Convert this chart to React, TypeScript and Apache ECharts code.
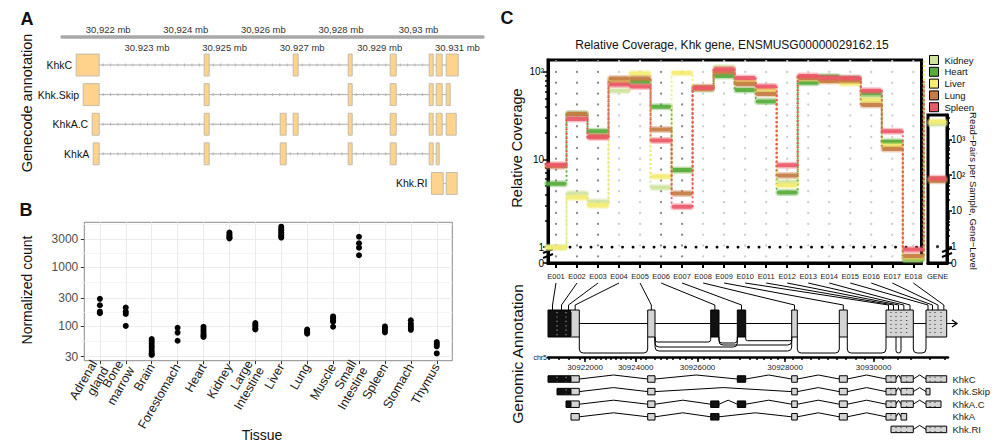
import React, { useEffect, useRef } from "react";
import * as echarts from "echarts";

const FONT = '"Liberation Sans", Arial, Helvetica, sans-serif';
const fnt = (size: number, weight = "normal") => `${weight} ${size}px ${FONT}`;

// ================= Panel A : Genecode annotation (kb) =================
const A_TRANSCRIPTS = ["KhkC", "Khk.Skip", "KhkA.C", "KhkA", "Khk.RI"];
const A_KHKC = [[30921.175, 30921.768], [30924.474, 30924.603], [30926.768, 30926.897], [30928.186, 30928.289], [30929.268, 30929.423], [30930.273, 30930.376], [30930.454, 30930.608], [30930.711, 30931.021]];
const A_KHK_SKIP = [[30921.356, 30921.768], [30924.474, 30924.603], [30928.186, 30928.289], [30929.268, 30929.423], [30930.273, 30930.376], [30930.454, 30930.608], [30930.711, 30930.814]];
const A_KHKA_C = [[30921.588, 30921.768], [30924.474, 30924.603], [30926.433, 30926.588], [30926.768, 30926.897], [30928.186, 30928.289], [30929.268, 30929.423], [30930.273, 30930.376], [30930.454, 30930.608], [30930.711, 30930.969]];
const A_KHKA = [[30921.613, 30921.768], [30924.474, 30924.603], [30926.433, 30926.588], [30928.186, 30928.289], [30929.268, 30929.423], [30930.273, 30930.376], [30930.454, 30930.531]];
const A_KHK_RI = [[30930.33, 30930.634], [30930.711, 30930.995]];
const A_EXONS = [A_KHKC, A_KHK_SKIP, A_KHKA_C, A_KHKA, A_KHK_RI];
const A_TICKS_ABOVE = [30922, 30924, 30926, 30928, 30930];
const A_LABELS_ABOVE = ["30,922 mb", "30,924 mb", "30,926 mb", "30,928 mb", "30,93 mb"];
const A_TICKS_BELOW = [30923, 30925, 30927, 30929, 30931];
const A_LABELS_BELOW = ["30.923 mb", "30.925 mb", "30.927 mb", "30.929 mb", "30.931 mb"];

// ================= Panel B : normalized counts =================
const B_TISSUES = ["Adrenal\ngland", "Bone\nmarrow", "Brain", "Forestomach", "Heart", "Kidney", "Large\nIntestine", "Liver", "Lung", "Muscle", "Small\nIntestine", "Spleen", "Stomach", "Thymus"];
const B_ADRENAL = [290, 225, 175, 165];
const B_BONE_MARROW = [205, 175, 160, 100];
const B_BRAIN = [60, 55, 50, 45, 42, 38, 35, 33, 32];
const B_FORESTOMACH = [93, 77, 56];
const B_HEART = [97, 88, 80, 73, 68, 65];
const B_KIDNEY = [3900, 3600, 3400, 3200, 3100];
const B_LARGE_INTESTINE = [112, 105, 98, 90, 87];
const B_LIVER = [4900, 4500, 4200, 3900, 3600, 3400, 3200];
const B_LUNG = [87, 82, 78, 74];
const B_MUSCLE = [145, 135, 125, 118, 97];
const B_SMALL_INTESTINE = [3300, 2550, 2150, 1600];
const B_SPLEEN = [98, 92, 85, 78];
const B_STOMACH = [125, 110, 100, 92, 86];
const B_THYMUS = [53, 49, 45, 34];
const B_VALUES = [B_ADRENAL, B_BONE_MARROW, B_BRAIN, B_FORESTOMACH, B_HEART, B_KIDNEY, B_LARGE_INTESTINE, B_LIVER, B_LUNG, B_MUSCLE, B_SMALL_INTESTINE, B_SPLEEN, B_STOMACH, B_THYMUS];
const B_Y_TICKS = [30, 100, 300, 1000, 3000];
const B_Y_MINOR = [54.8, 173, 548, 1732, 5477];

// ================= Panel C : relative coverage =================
const C_EXONS = ["E001", "E002", "E003", "E004", "E005", "E006", "E007", "E008", "E009", "E010", "E011", "E012", "E013", "E014", "E015", "E016", "E017", "E018"];
const C_TISSUES = ["Kidney", "Heart", "Liver", "Lung", "Spleen"];
const C_COLORS = ["#cfe39e", "#55ad3a", "#f3ec70", "#c57c44", "#ec5868"];
const C_KIDNEY = [1.0, 4.1, 3.3, 61, 80, 4.8, 7.5, 66, 112, 76, 60, 5.5, 86, 85, 82, 51, 15.5, 0.2];
const C_HEART = [5.3, 33, 21, 77, 77, 40, 7.6, 64, 90, 62, 46, 4.2, 75, 88, 84, 57, 16, 0.25];
const C_LIVER = [0.98, 3.7, 3.0, 80, 96, 6.4, 97, 65, 104, 78, 62, 5.1, 84, 80, 74, 47, 14.4, 0.35];
const C_LUNG = [8.4, 33, 18.5, 84, 84, 22, 4.1, 67, 100, 73, 56, 6.6, 85, 79, 80, 42, 13.2, 0.45];
const C_SPLEEN = [8.7, 29, 18, 72, 68, 16.5, 2.9, 65, 107, 85, 68, 8.6, 90, 86, 85, 61, 21, 0.85];
const C_VALUES = [C_KIDNEY, C_HEART, C_LIVER, C_LUNG, C_SPLEEN];
const C_GENE = [2700, 75, 3150, 70, 82];
const C_SIG = [0, 1, 2, 5, 6];
const MAIN_Y_TICK_VALUES = [0, 1, 10, 100];
const MAIN_Y_TICK_LABELS = ["0", "1", "10", "10²"];
const MAIN_Y_MINOR = [2, 3, 4, 5, 6, 7, 8, 9, 20, 30, 40, 50, 60, 70, 80, 90];
const GENE_Y_TICK_VALUES = [0, 1, 10, 100, 1000];
const GENE_Y_TICK_LABELS = ["0", "1", "10", "10²", "10³"];
const GENE_Y_MINOR = [2, 3, 4, 5, 6, 7, 8, 9, 20, 30, 40, 50, 60, 70, 80, 90, 200, 300, 400, 500, 600, 700, 800, 900, 2000, 3000, 4000];

// gene model (exon-weighted layout, model units) and genomic coordinates (kb)
const GM_BIN_START = [0, 9, 18, 23, 99.7, 162.7, 189.3, 243.7, 291.3, 338, 343, 348, 353, 358.7, 378, 382, 387, 393];
const GM_BIN_END = [9, 18, 23, 31.3, 107, 171, 197.7, 249.3, 299.3, 343, 348, 353, 358.7, 365.3, 382, 387, 393, 398.7];
const GM_BIN_GSTART = [30921.175, 30921.356, 30921.588, 30921.613, 30924.474, 30926.433, 30926.768, 30928.186, 30929.268, 30930.273, 30930.33, 30930.376, 30930.454, 30930.531, 30930.711, 30930.814, 30930.9, 30930.969];
const GM_BIN_GEND = [30921.356, 30921.588, 30921.613, 30921.768, 30924.603, 30926.588, 30926.897, 30928.289, 30929.423, 30930.33, 30930.376, 30930.454, 30930.531, 30930.634, 30930.814, 30930.9, 30930.969, 30931.021];
const GM_JUNCTION_FROM = [3, 4, 4, 4, 5, 5, 6, 7, 8, 10, 13];
const GM_JUNCTION_TO = [4, 5, 6, 7, 6, 7, 7, 8, 9, 12, 14];
const GM_JUNCTION_DEPTH = [16, 5, 10, 14, 6, 8, 3.7, 16, 16, 16, 16];
const GM_TRANSCRIPTS = ["KhkC", "Khk.Skip", "KhkA.C", "KhkA", "Khk.RI"];
const GM_TX_KHKC = [0, 1, 2, 3, 4, 6, 7, 8, 9, 10, 12, 13, 14, 15, 16, 17];
const GM_TX_KHK_SKIP = [1, 2, 3, 4, 7, 8, 9, 10, 12, 13, 14];
const GM_TX_KHKA_C = [2, 3, 4, 5, 6, 7, 8, 9, 10, 12, 13, 14, 15, 16];
const GM_TX_KHKA = [3, 4, 5, 7, 8, 9, 10, 12];
const GM_TX_KHK_RI = [10, 11, 12, 13, 14, 15, 16, 17];
const GM_TX = [GM_TX_KHKC, GM_TX_KHK_SKIP, GM_TX_KHKA_C, GM_TX_KHKA, GM_TX_KHK_RI];
const CHR_LABEL_POS = [30922, 30924, 30926, 30928, 30930];
const CHR_LABELS = ["30922000", "30924000", "30926000", "30928000", "30930000"];

// ================= layout constants =================
const A_X_MIN = 30920.81, A_X_MAX = 30931.66;
const B_X_MIN = -0.6, B_X_MAX = 13.6;
const MAIN_LEFT = 548, MAIN_W = 373.5;
const MAIN_X_MIN = -0.38, MAIN_X_MAX = 17.39;
const MAIN_ZERO_T = -0.18, MAIN_T_MAX = 2.136;
const GENE_ZERO_T = -0.455, GENE_T_MAX = 3.68;
const GM_CONN_TOP = 0, GM_KINK = 22, GM_BOX_TOP = 27, GM_BOX_BOT = 54, GM_CENTER = 40.5;

const tMain = (v: number) => (v >= 1 ? Math.log10(v) : MAIN_ZERO_T * (1 - v));
const tGene = (v: number) => (v >= 1 ? Math.log10(v) : GENE_ZERO_T * (1 - v));
const idx = (n: number) => Array.from({ length: n }, (_, i) => i);
function nearestIdx(arr: number[], v: number) {
  let b = 0;
  for (let i = 1; i < arr.length; i++) if (Math.abs(arr[i] - v) < Math.abs(arr[b] - v)) b = i;
  return b;
}
const GM_ANCHORS = (() => {
  const pts: number[][] = [];
  for (let i = 0; i < GM_BIN_GSTART.length; i++) {
    pts.push([GM_BIN_GSTART[i], GM_BIN_START[i]]);
    pts.push([GM_BIN_GEND[i], GM_BIN_END[i]]);
  }
  pts.sort((a, b) => a[0] - b[0]);
  return pts;
})();
function gToModel(g: number) {
  const a = GM_ANCHORS;
  if (g <= a[0][0]) return a[0][1];
  for (let j = 0; j < a.length - 1; j++) {
    const g0 = a[j][0], m0 = a[j][1], g1 = a[j + 1][0], m1 = a[j + 1][1];
    if (g >= g0 && g <= g1) return g1 - g0 < 1e-9 ? m0 : m0 + ((g - g0) / (g1 - g0)) * (m1 - m0);
  }
  return a[a.length - 1][1];
}
const CHR_MINOR = idx(50).map((k) => gToModel(30921.2 + 0.2 * k));
const CHR_LABEL_M = CHR_LABEL_POS.map(gToModel);
const colPx = (i: number) => MAIN_LEFT + ((i - MAIN_X_MIN) / (MAIN_X_MAX - MAIN_X_MIN)) * MAIN_W;
const isSig = (i: number) => C_SIG.indexOf(i) >= 0;

function dividerStyle(prevSig: boolean, sig: boolean) {
  if (prevSig && sig) return { stroke: "#9a9a9a", lineWidth: 1.2, lineDash: [1.2, 3.2], fill: "none" };
  if (!prevSig && !sig) return { stroke: "#222", lineWidth: 1, lineDash: [1, 3], fill: "none" };
  return { stroke: "#000", lineWidth: 1, fill: "none" };
}

// ---------- render functions ----------
function renderA(params: any, api: any) {
  const row = api.value(1);
  const exons = A_EXONS[row];
  const h = Math.abs(api.size([0, 1])[1]) * 0.74;
  const yc = api.coord([A_X_MIN, row])[1];
  const X = (g: number) => api.coord([g, row])[0];
  const ch: any[] = [];
  const xa = X(exons[0][1]);
  const xb = X(exons[exons.length - 1][0]);
  ch.push({ type: "line", shape: { x1: xa, y1: yc, x2: xb, y2: yc }, style: { stroke: "#aaaaaa", lineWidth: 1, fill: "none" } });
  for (let j = 0; j < exons.length - 1; j++) {
    const a = X(exons[j][1]);
    const b = X(exons[j + 1][0]);
    for (let x = a + 4; x < b - 3; x += 7.4) {
      ch.push({ type: "line", shape: { x1: x, y1: yc - 1.5, x2: x, y2: yc + 1.5 }, style: { stroke: "#b4b4b4", lineWidth: 1, fill: "none" } });
    }
  }
  exons.forEach((e: number[]) => {
    const x1 = X(e[0]);
    const x2 = X(e[1]);
    ch.push({ type: "rect", shape: { x: x1, y: yc - h / 2, width: x2 - x1, height: h }, style: { fill: "#FFD38B", stroke: "#c3bcab", lineWidth: 1 } });
  });
  ch.push({ type: "text", x: X(exons[0][0]) - 4, y: yc, style: { text: A_TRANSCRIPTS[row], font: fnt(10.5), fill: "#111", align: "right", verticalAlign: "middle", textAlign: "right", textVerticalAlign: "middle" } });
  return { type: "group", children: ch };
}

function renderColumnDots(params: any, api: any) {
  const i = api.value(0);
  const cs = params.coordSys;
  const x = api.coord([i, 0])[0];
  const y2 = api.coord([i, 2])[1];
  const period = 10.85;
  const yStart = y2 - period * Math.floor((y2 - cs.y) / period);
  return { type: "line", shape: { x1: x, y1: yStart, x2: x, y2: cs.y + cs.height - 1 }, style: { stroke: isSig(i) ? "#8a8a8a" : "#cccccc", lineWidth: 2.3, lineDash: [0.1, period - 0.1], lineCap: "round", fill: "none" } };
}

function renderOneLine(params: any, api: any) {
  const cs = params.coordSys;
  const y = api.coord([0, 0])[1];
  return { type: "line", shape: { x1: cs.x + 1, y1: y, x2: cs.x + cs.width, y2: y }, style: { stroke: "#000", lineWidth: 2.8, lineDash: [0.1, 10.4], lineCap: "round", fill: "none" } };
}

const tissueRender = (k: number) => (params: any, api: any) => {
  const i = api.value(0);
  const t = api.value(1);
  const tn = api.value(2);
  const band = api.size([1, 0])[0];
  const p = api.coord([i, t]);
  const half = band * 0.4;
  const color = C_COLORS[k];
  const ch: any[] = [];
  if (!isNaN(tn)) {
    const q = api.coord([i, tn]);
    const xb = p[0] + band / 2;
    ch.push({ type: "line", shape: { x1: xb, y1: p[1], x2: xb, y2: q[1] }, style: { stroke: color, lineWidth: 2.2, lineDash: [0.1, 4.3], lineDashOffset: k * 0.9, lineCap: "round", fill: "none", opacity: 0.95 } });
  }
  ch.push({ type: "line", shape: { x1: p[0] - half, y1: p[1], x2: p[0] + half, y2: p[1] }, style: { stroke: color, lineWidth: 7, lineCap: "round", opacity: 0.35, fill: "none" } });
  ch.push({ type: "line", shape: { x1: p[0] - half, y1: p[1], x2: p[0] + half, y2: p[1] }, style: { stroke: color, lineWidth: 4, lineCap: "round", opacity: 0.9, fill: "none" } });
  return { type: "group", children: ch };
};

function renderGeneBars(params: any, api: any) {
  const t = api.value(1);
  const k = api.value(2);
  const cs = params.coordSys;
  const y = api.coord([0, t])[1];
  return {
    type: "group",
    children: [
      { type: "line", shape: { x1: cs.x + 2.5, y1: y, x2: cs.x + cs.width - 2.5, y2: y }, style: { stroke: C_COLORS[k], lineWidth: 7, lineCap: "round", opacity: 0.35, fill: "none" } },
      { type: "line", shape: { x1: cs.x + 2.5, y1: y, x2: cs.x + cs.width - 2.5, y2: y }, style: { stroke: C_COLORS[k], lineWidth: 4, lineCap: "round", opacity: 0.9, fill: "none" } },
    ],
  };
}

function renderBackbone(params: any, api: any) {
  const p0 = api.coord([0, GM_CENTER]);
  const p1 = api.coord([409, GM_CENTER]);
  return {
    type: "group",
    children: [
      { type: "line", shape: { x1: p0[0], y1: p0[1], x2: p1[0], y2: p1[1] }, style: { stroke: "#000", lineWidth: 1, fill: "none" } },
      { type: "polyline", shape: { points: [[p1[0] - 5, p1[1] - 3.5], [p1[0], p1[1]], [p1[0] - 5, p1[1] + 3.5]] }, style: { stroke: "#000", lineWidth: 1.3, fill: "none" } },
    ],
  };
}

function renderJunction(params: any, api: any) {
  const k = api.value(2);
  const x1 = api.coord([GM_BIN_END[GM_JUNCTION_FROM[k]], 0])[0];
  const x2 = api.coord([GM_BIN_START[GM_JUNCTION_TO[k]], 0])[0];
  const y0 = api.coord([0, GM_BOX_BOT])[1];
  const dep = GM_JUNCTION_DEPTH[k];
  const yd = y0 + dep;
  const r = Math.min(4, (x2 - x1) / 2, dep / 2);
  const d = `M${x1} ${y0} L${x1} ${yd - r} Q${x1} ${yd} ${x1 + r} ${yd} L${x2 - r} ${yd} Q${x2} ${yd} ${x2} ${yd - r} L${x2} ${y0}`;
  return { type: "path", shape: { pathData: d }, style: { stroke: "#000", lineWidth: 1, fill: "none" } };
}

function renderBin(params: any, api: any) {
  const i = api.value(2);
  const x1 = api.coord([GM_BIN_START[i], 0])[0];
  const x2 = api.coord([GM_BIN_END[i], 0])[0];
  const yT = api.coord([0, GM_BOX_TOP])[1];
  const yB = api.coord([0, GM_BOX_BOT])[1];
  const sig = isSig(i);
  const ch: any[] = [{ type: "rect", shape: { x: x1, y: yT, width: x2 - x1, height: yB - yT }, style: { fill: sig ? "#111111" : "#d4d4d4" } }];
  if (i > 0 && Math.abs(GM_BIN_END[i - 1] - GM_BIN_START[i]) < 0.01) {
    ch.push({ type: "line", shape: { x1: x1, y1: yT + 2, x2: x1, y2: yB - 1 }, style: dividerStyle(isSig(i - 1), sig) });
  }
  return { type: "group", children: ch };
}

const GM_GROUPS = (() => {
  const groups: number[][] = [];
  for (let i = 0; i < GM_BIN_START.length; i++) {
    const last = groups[groups.length - 1];
    if (last && Math.abs(last[1] - GM_BIN_START[i]) < 0.01) last[1] = GM_BIN_END[i];
    else groups.push([GM_BIN_START[i], GM_BIN_END[i]]);
  }
  return groups;
})();

function renderGroupOutline(params: any, api: any) {
  const x1 = api.coord([api.value(0), 0])[0];
  const x2 = api.coord([api.value(2), 0])[0];
  const yT = api.coord([0, GM_BOX_TOP])[1];
  const yB = api.coord([0, GM_BOX_BOT])[1];
  return { type: "rect", shape: { x: x1, y: yT, width: x2 - x1, height: yB - yT }, style: { fill: "none", stroke: "#000", lineWidth: 1 } };
}

function renderConnector(params: any, api: any) {
  const i = api.value(2);
  const topX = colPx(i);
  const bx = api.coord([(GM_BIN_START[i] + GM_BIN_END[i]) / 2, 0])[0];
  const y0 = api.coord([0, GM_CONN_TOP])[1];
  const yk = api.coord([0, GM_KINK])[1];
  const y1 = api.coord([0, GM_BOX_TOP])[1];
  return { type: "polyline", shape: { points: [[topX, y0], [bx, yk], [bx, y1]] }, style: { stroke: "#000", lineWidth: 1, fill: "none" } };
}

function renderTranscript(params: any, api: any) {
  const r = api.value(1);
  const bins = GM_TX[r];
  const yc = api.coord([0, r])[1];
  const h = 6.5;
  const X = (m: number) => api.coord([m, r])[0];
  const runs: number[][] = [];
  bins.forEach((b: number) => {
    const last = runs[runs.length - 1];
    if (last && Math.abs(GM_BIN_END[last[last.length - 1]] - GM_BIN_START[b]) < 0.01) last.push(b);
    else runs.push([b]);
  });
  const ch: any[] = [];
  for (let j = 0; j < runs.length - 1; j++) {
    const a = X(GM_BIN_END[runs[j][runs[j].length - 1]]);
    const b = X(GM_BIN_START[runs[j + 1][0]]);
    ch.push({ type: "polyline", shape: { points: [[a, yc], [(a + b) / 2, yc - 4], [b, yc]] }, style: { stroke: "#000", lineWidth: 1, fill: "none" } });
  }
  runs.forEach((run) => {
    run.forEach((b, k) => {
      const x1 = X(GM_BIN_START[b]);
      const x2 = X(GM_BIN_END[b]);
      ch.push({ type: "rect", shape: { x: x1, y: yc - h / 2, width: x2 - x1, height: h }, style: { fill: isSig(b) ? "#111111" : "#d4d4d4" } });
      if (k > 0) ch.push({ type: "line", shape: { x1: x1, y1: yc - h / 2 + 1, x2: x1, y2: yc + h / 2 - 0.5 }, style: dividerStyle(isSig(run[k - 1]), isSig(b)) });
    });
    const x1 = X(GM_BIN_START[run[0]]);
    const x2 = X(GM_BIN_END[run[run.length - 1]]);
    ch.push({ type: "rect", shape: { x: x1, y: yc - h / 2, width: x2 - x1, height: h }, style: { fill: "none", stroke: "#000", lineWidth: 1 } });
  });
  return { type: "group", children: ch };
}

function buildOption() {
  const noLine = { show: false, onZero: false };
  const custom = (xi: number, yi: number, data: any[], renderItem: any, extra: any = {}) => ({
    type: "custom", xAxisIndex: xi, yAxisIndex: yi, data, renderItem, silent: true, encode: { x: 0, y: 1 }, ...extra,
  });
  const mainYT = MAIN_Y_TICK_VALUES.map(tMain);
  const geneYT = GENE_Y_TICK_VALUES.map(tGene);
  const bYT = B_Y_TICKS.map(Math.log10);
  // empty guard labels at both ends keep ECharts' min/max overlap check away from the real labels
  const bLabelValues = [B_X_MIN, ...idx(B_TISSUES.length), B_X_MAX];
  const txt = (x: number, y: number, text: string, font: string, rotation = 0, align = "center") => ({
    type: "text", x, y, rotation,
    style: { text, font, fill: "#111", align, verticalAlign: "middle", textAlign: align, textVerticalAlign: "middle" },
  });

  return {
    animation: false,
    backgroundColor: "#ffffff",
    textStyle: { fontFamily: FONT },
    legend: {
      data: C_TISSUES, left: 929, top: 55, orient: "vertical", icon: "rect", itemWidth: 9, itemHeight: 9, itemGap: 1.8,
      padding: 0, selectedMode: false, itemStyle: { borderColor: "#000", borderWidth: 1 },
      textStyle: { fontSize: 9.5, color: "#111", lineHeight: 9.5, padding: [0, 0, 0, 1] },
    },
    grid: [
      { left: 62, top: 37, width: 421, height: 164.2, show: false, outerBoundsMode: "none" },
      { left: 84.3, top: 222.3, width: 368, height: 138.4, show: true, borderColor: "#8a8a8a", borderWidth: 1, backgroundColor: "#fff", outerBoundsMode: "none" },
      { left: MAIN_LEFT, top: 60, width: MAIN_W, height: 203, show: true, borderColor: "#000", borderWidth: 3, backgroundColor: "transparent", outerBoundsMode: "none" },
      { left: 928, top: 115, width: 19, height: 148, show: true, borderColor: "#000", borderWidth: 3, backgroundColor: "transparent", outerBoundsMode: "none" },
      { left: MAIN_LEFT, top: 283, width: 400, height: 74, show: false, outerBoundsMode: "none" },
      { left: MAIN_LEFT, top: 372.7, width: 400, height: 63, show: false, outerBoundsMode: "none" },
    ],
    xAxis: [
      {
        gridIndex: 0, type: "value", position: "top", min: A_X_MIN, max: A_X_MAX,
        axisLine: { show: true, onZero: false, lineStyle: { color: "#a8a8a8", width: 3.5 } },
        axisTick: { show: false }, splitLine: { show: false },
        axisLabel: { customValues: A_TICKS_ABOVE, formatter: (v: number) => A_LABELS_ABOVE[nearestIdx(A_TICKS_ABOVE, v)], fontSize: 9.5, color: "#333", margin: 3 },
      },
      {
        gridIndex: 0, type: "value", position: "top", min: A_X_MIN, max: A_X_MAX,
        axisLine: noLine, axisTick: { show: false }, splitLine: { show: false },
        axisLabel: { inside: true, customValues: A_TICKS_BELOW, formatter: (v: number) => A_LABELS_BELOW[nearestIdx(A_TICKS_BELOW, v)], fontSize: 9.5, color: "#333", margin: 5 },
      },
      {
        gridIndex: 1, type: "value", position: "bottom", min: B_X_MIN, max: B_X_MAX,
        axisLine: noLine,
        axisTick: { show: true, customValues: idx(14), length: 3.5, lineStyle: { color: "#333" } },
        axisLabel: {
          customValues: bLabelValues,
          formatter: (v: number) => (v < -0.3 || v > B_TISSUES.length - 0.7 ? "" : B_TISSUES[Math.round(v)]),
          rotate: 60, fontSize: 12.5, lineHeight: 13, color: "#1a1a1a", margin: 4, hideOverlap: false,
        },
        splitLine: { show: true, lineStyle: { color: "#ebebeb", width: 1 } },
      },
      {
        gridIndex: 2, type: "value", position: "bottom", min: MAIN_X_MIN, max: MAIN_X_MAX,
        axisLine: { show: true, onZero: false, lineStyle: { color: "#000", width: 3 } },
        axisTick: { show: true, customValues: idx(18), length: 5, lineStyle: { color: "#000", width: 2 } },
        axisLabel: { customValues: idx(18), formatter: (v: number) => C_EXONS[Math.round(v)], fontSize: 7.5, color: "#222", margin: 9 },
        splitLine: { show: false },
      },
      {
        gridIndex: 3, type: "value", position: "bottom", min: -0.5, max: 0.5,
        axisLine: { show: true, onZero: false, lineStyle: { color: "#000", width: 3 } },
        axisTick: { show: true, customValues: [0], length: 5, lineStyle: { color: "#000", width: 2 } },
        axisLabel: { customValues: [0], formatter: () => "GENE", fontSize: 7.5, color: "#222", margin: 9 },
        splitLine: { show: false },
      },
      {
        gridIndex: 4, type: "value", position: "bottom", min: 0, max: 400,
        axisLine: { show: true, onZero: false, lineStyle: { color: "#000", width: 2.5 } },
        axisTick: { show: true, customValues: CHR_MINOR, length: 3, lineStyle: { color: "#000", width: 1.5 } },
        axisLabel: { show: false }, splitLine: { show: false },
      },
      {
        gridIndex: 4, type: "value", position: "bottom", min: 0, max: 400,
        axisLine: noLine,
        axisTick: { show: true, customValues: CHR_LABEL_M, length: 5, lineStyle: { color: "#000", width: 1.5 } },
        axisLabel: { customValues: CHR_LABEL_M, formatter: (v: number) => CHR_LABELS[nearestIdx(CHR_LABEL_M, v)], fontSize: 8, color: "#222", margin: 6 },
        splitLine: { show: false },
      },
      { gridIndex: 5, type: "value", min: 0, max: 400, show: false, axisLine: noLine },
    ],
    yAxis: [
      { gridIndex: 0, type: "value", inverse: true, min: -0.946, max: 4.6, show: false, axisLine: noLine },
      {
        gridIndex: 1, type: "value", position: "left", min: Math.log10(25.6), max: Math.log10(5820),
        axisLine: noLine,
        axisTick: { show: true, customValues: bYT, length: 3.5, lineStyle: { color: "#333" } },
        axisLabel: { customValues: bYT, formatter: (v: number) => String(B_Y_TICKS[nearestIdx(bYT, v)]), fontSize: 12, color: "#4d4d4d", margin: 6 },
        splitLine: { show: true, lineStyle: { color: "#ebebeb", width: 1 } },
      },
      {
        gridIndex: 1, type: "value", position: "left", min: Math.log10(25.6), max: Math.log10(5820),
        axisLine: noLine, axisTick: { show: false, customValues: B_Y_MINOR.map(Math.log10) }, axisLabel: { show: false },
        splitLine: { show: true, lineStyle: { color: "#f5f5f5", width: 1 } },
      },
      {
        gridIndex: 2, type: "value", position: "left", min: MAIN_ZERO_T, max: MAIN_T_MAX,
        axisLine: { show: true, onZero: false, lineStyle: { color: "#000", width: 3 } },
        axisTick: { show: true, customValues: mainYT, length: 5, lineStyle: { color: "#000", width: 1.5 } },
        axisLabel: { customValues: mainYT, formatter: (v: number) => MAIN_Y_TICK_LABELS[nearestIdx(mainYT, v)], fontSize: 10, color: "#000", margin: 4 },
        splitLine: { show: false },
      },
      {
        gridIndex: 2, type: "value", position: "left", min: MAIN_ZERO_T, max: MAIN_T_MAX,
        axisLine: noLine,
        axisTick: { show: true, customValues: MAIN_Y_MINOR.map(Math.log10), length: 3, lineStyle: { color: "#000", width: 1.5 } },
        axisLabel: { show: false }, splitLine: { show: false },
      },
      {
        gridIndex: 3, type: "value", position: "right", min: GENE_ZERO_T, max: GENE_T_MAX,
        axisLine: { show: true, onZero: false, lineStyle: { color: "#000", width: 3 } },
        axisTick: { show: true, customValues: geneYT, length: 5, lineStyle: { color: "#000", width: 1.5 } },
        axisLabel: { customValues: geneYT, formatter: (v: number) => GENE_Y_TICK_LABELS[nearestIdx(geneYT, v)], fontSize: 10, color: "#000", margin: 4 },
        splitLine: { show: false },
      },
      {
        gridIndex: 3, type: "value", position: "right", min: GENE_ZERO_T, max: GENE_T_MAX,
        axisLine: noLine,
        axisTick: { show: true, customValues: GENE_Y_MINOR.map(Math.log10), length: 3, lineStyle: { color: "#000", width: 1.5 } },
        axisLabel: { show: false }, splitLine: { show: false },
      },
      { gridIndex: 4, type: "value", inverse: true, min: 0, max: 74, show: false, axisLine: noLine },
      {
        gridIndex: 5, type: "category", inverse: true, position: "right", data: GM_TRANSCRIPTS,
        axisLine: noLine, axisTick: { show: false }, splitLine: { show: false },
        axisLabel: { interval: 0, fontSize: 9.5, color: "#222", margin: 4.5 },
      },
    ],
    series: [
      custom(0, 0, A_TRANSCRIPTS.map((_, r) => [A_X_MIN, r]), renderA),
      {
        type: "scatter", xAxisIndex: 2, yAxisIndex: 1, symbolSize: 6, silent: true,
        itemStyle: { color: "#000", opacity: 1 },
        data: B_VALUES.flatMap((vals, i) => vals.map((v) => [i, Math.log10(v)])),
      },
      custom(3, 3, C_EXONS.map((_, i) => [i, 0]), renderColumnDots),
      custom(3, 3, [[0, 0]], renderOneLine),
      ...C_TISSUES.map((name, k) =>
        custom(
          3, 3,
          C_VALUES[k].map((v, i, arr) => [i, tMain(v), i < arr.length - 1 ? tMain(arr[i + 1]) : Math.min(tMain(C_GENE[k]), MAIN_T_MAX)]),
          tissueRender(k),
          { name, itemStyle: { color: C_COLORS[k] } }
        )
      ),
      custom(4, 5, C_GENE.map((v, k) => [0, tGene(v), k]), renderGeneBars),
      { type: "scatter", xAxisIndex: 4, yAxisIndex: 5, symbolSize: 3.2, silent: true, itemStyle: { color: "#000" }, data: [[0, 0]] },
      custom(5, 7, [[0, GM_CENTER]], renderBackbone),
      custom(5, 7, GM_JUNCTION_FROM.map((b, k) => [GM_BIN_END[b], GM_BOX_BOT, k]), renderJunction),
      custom(5, 7, GM_BIN_START.map((s, i) => [s, GM_BOX_TOP, i]), renderBin),
      custom(5, 7, GM_GROUPS.map((g) => [g[0], GM_BOX_TOP, g[1]]), renderGroupOutline),
      custom(5, 7, GM_BIN_START.map((s, i) => [s, GM_CONN_TOP, i]), renderConnector),
      custom(7, 8, GM_TRANSCRIPTS.map((_, r) => [0, r]), renderTranscript),
    ],
    graphic: [
      txt(27, 19, "A", fnt(18, "bold")),
      txt(26, 210, "B", fnt(18, "bold")),
      txt(507, 18, "C", fnt(18, "bold")),
      txt(27, 103, "Genecode annotation", fnt(14.5), Math.PI / 2),
      txt(27, 290, "Normalized count", fnt(14), Math.PI / 2),
      txt(262, 435, "Tissue", fnt(14)),
      txt(732, 45, "Relative Coverage, Khk gene, ENSMUSG00000029162.15", fnt(12)),
      txt(517, 148, "Relative Coverage", fnt(14.5), Math.PI / 2),
      txt(517, 354, "Genomic Annotation", fnt(15.5), Math.PI / 2),
      txt(973, 191, "Read−Pairs per Sample, Gene−Level", fnt(9.5), -Math.PI / 2),
      txt(547, 357, "chr5", fnt(7), 0, "right"),
      { type: "line", shape: { x1: 543, y1: 253, x2: 553, y2: 249 }, style: { stroke: "#000", lineWidth: 2 } },
      { type: "line", shape: { x1: 543, y1: 258, x2: 553, y2: 254 }, style: { stroke: "#000", lineWidth: 2 } },
      { type: "line", shape: { x1: 942, y1: 252, x2: 952, y2: 248 }, style: { stroke: "#000", lineWidth: 2 } },
      { type: "line", shape: { x1: 942, y1: 257, x2: 952, y2: 253 }, style: { stroke: "#000", lineWidth: 2 } },
    ],
  };
}

export default function App() {
  const ref = useRef<HTMLDivElement | null>(null);
  useEffect(() => {
    const el = ref.current;
    if (!el) return;
    const chart = echarts.init(el, null, { renderer: "svg" });
    chart.setOption(buildOption() as any);
    return () => chart.dispose();
  }, []);
  return <div ref={ref} style={{ position: "fixed", left: 0, top: 0, width: 1000, height: 446, background: "#fff" }} />;
}
